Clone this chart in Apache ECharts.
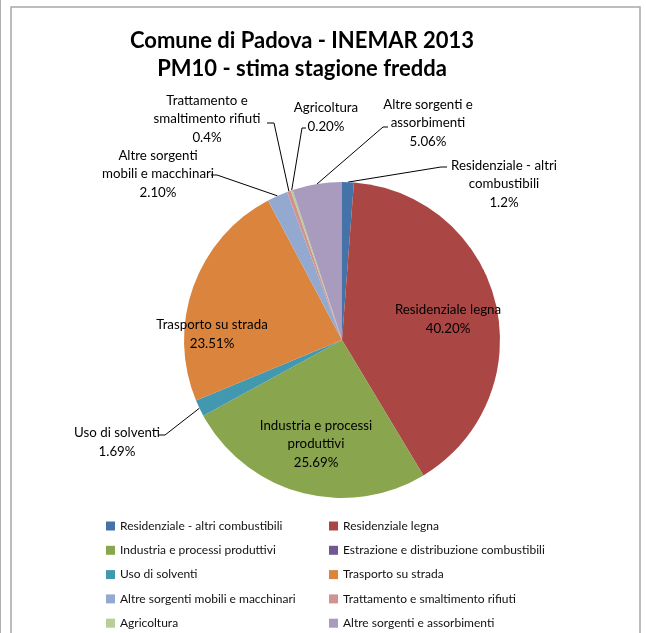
<!DOCTYPE html>
<html>
<head>
<meta charset="utf-8">
<script src="https://cdn.jsdelivr.net/npm/echarts@6/dist/echarts.min.js"></script>
<style>html,body{margin:0;padding:0;background:#fff}#c{width:646px;height:633px}</style>
</head>
<body>
<div id="c"></div>
<script>
// ---- data ----
const categories = [
  'Residenziale - altri combustibili',
  'Residenziale legna',
  'Industria e processi produttivi',
  'Estrazione e distribuzione combustibili',
  'Uso di solventi',
  'Trasporto su strada',
  'Altre sorgenti mobili e macchinari',
  'Trattamento e smaltimento rifiuti',
  'Agricoltura',
  'Altre sorgenti e assorbimenti'
];
const values = [1.2, 40.20, 25.69, 0, 1.69, 23.51, 2.10, 0.4, 0.20, 5.06];
const valueTexts = ['1.2%', '40.20%', '25.69%', '', '1.69%', '23.51%', '2.10%', '0.4%', '0.20%', '5.06%'];
const labelNames = [
  'Residenziale - altri\ncombustibili',
  'Residenziale legna',
  'Industria e processi\nproduttivi',
  '',
  'Uso di solventi',
  'Trasporto su strada',
  'Altre sorgenti\nmobili e macchinari',
  'Trattamento e\nsmaltimento rifiuti',
  'Agricoltura',
  'Altre sorgenti e\nassorbimenti'
];
const titleLines = ['Comune di Padova - INEMAR 2013', 'PM10 - stima stagione fredda'];

// ---- styling / layout ----
const colors = ['#4572A7', '#AA4643', '#89A54E', '#71588F', '#4198AF', '#DB843D', '#93A9CF', '#D19392', '#B9CD96', '#A99BBD'];
const insideLabels = [1, 2, 5];
const pieCenter = [342, 340];
const pieRadius = 158;
// label block centres, relative to the pie centre
const labelOffsets = [[162, -156], [106, -21], [-26, 104], null, [-225, 102], [-130, -6], [-184, -166], [-135, -221], [-16, -223], [86, -217]];
// leader line bend and end, relative to the pie centre
const leaderBends = [
  [[99, -173], [105, -173]], null, null, null,
  [[-177, 95], [-183, 95]], null,
  [[-125, -165], [-131, -165]],
  [[-68, -217], [-75, -217]],
  [[-40, -212], [-36, -212]],
  [[41, -213], [46, -213]]
];
const FONT = 'Lato, "Open Sans", sans-serif';

const chart = echarts.init(document.getElementById('c'), null, { renderer: 'canvas' });

const pieData = categories.map((name, i) => {
  const item = { name: name, value: values[i] };
  if (values[i] === 0) {
    item.label = { show: false };
    item.labelLine = { show: false };
  } else if (insideLabels.indexOf(i) >= 0) {
    item.label = { position: 'inside' };
  }
  return item;
});

function legendFor(parity, left) {
  return {
    orient: 'vertical',
    left: left,
    top: 520,
    padding: 0,
    itemWidth: 9,
    itemHeight: 9,
    itemGap: 12.3,
    itemTextGap: 2,
    icon: 'rect',
    selectedMode: false,
    data: categories.filter((c, i) => i % 2 === parity),
    textStyle: { fontFamily: FONT, fontSize: 12, color: '#111', lineHeight: 12 }
  };
}

chart.setOption({
  backgroundColor: '#ffffff',
  animation: false,
  color: colors,
  graphic: [
    { type: 'rect', shape: { x: 11, y: 7, width: 629, height: 640 }, style: { fill: 'none', stroke: '#a8a8a8', lineWidth: 1.5 } },
    { type: 'rect', shape: { x: 0, y: 0, width: 1, height: 633 }, style: { fill: '#b0b0b0' } }
  ],
  title: {
    text: titleLines.join('\n'),
    left: 297,
    top: 22,
    textAlign: 'center',
    textStyle: { fontFamily: FONT, fontWeight: 'bold', fontSize: 22, lineHeight: 28, color: '#000' }
  },
  legend: [legendFor(0, 106), legendFor(1, 329)],
  series: [{
    type: 'pie',
    center: pieCenter,
    radius: pieRadius,
    startAngle: 90,
    clockwise: true,
    avoidLabelOverlap: false,
    itemStyle: { borderWidth: 0 },
    emphasis: { disabled: true },
    data: pieData,
    label: {
      show: true,
      position: 'outside',
      fontFamily: FONT,
      fontSize: 13.3,
      lineHeight: 18.5,
      color: '#000',
      align: 'center',
      formatter: p => labelNames[p.dataIndex] + '\n' + valueTexts[p.dataIndex]
    },
    labelLine: { show: true, length: 10, length2: 10, lineStyle: { color: '#000', width: 1 } },
    labelLayout: function (p) {
      const i = p.dataIndex;
      const o = labelOffsets[i];
      if (!o) return {};
      const res = { x: pieCenter[0] + o[0], y: pieCenter[1] + o[1], align: 'center', verticalAlign: 'middle' };
      const b = leaderBends[i];
      if (b && p.labelLinePoints) {
        res.labelLinePoints = [
          p.labelLinePoints[0],
          [pieCenter[0] + b[0][0], pieCenter[1] + b[0][1]],
          [pieCenter[0] + b[1][0], pieCenter[1] + b[1][1]]
        ];
      }
      return res;
    }
  }]
});
</script>
</body>
</html>
